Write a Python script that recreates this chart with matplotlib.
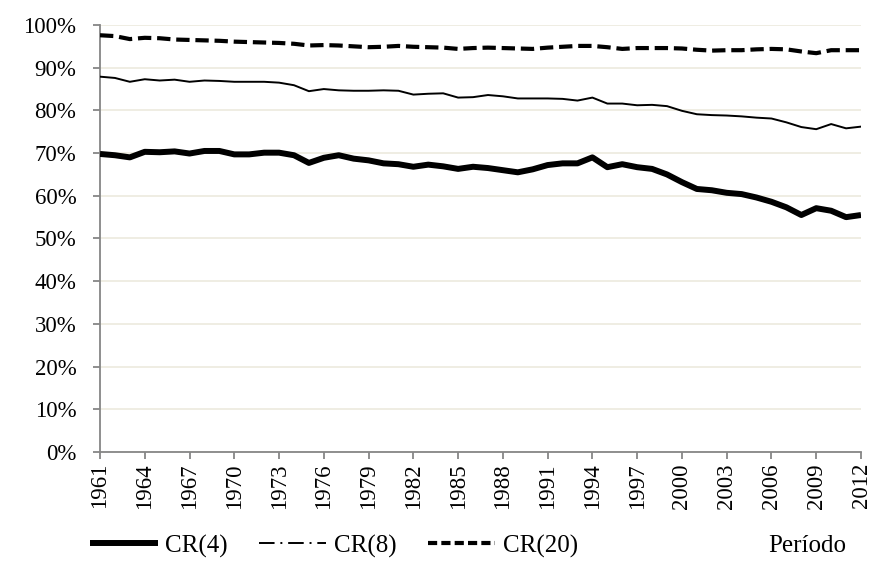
import matplotlib
matplotlib.use("Agg")
import matplotlib.pyplot as plt
from matplotlib.lines import Line2D
from matplotlib.ticker import FuncFormatter

years = list(range(1961, 2013))

cr4 = [69.8, 69.5, 69.0, 70.3, 70.2, 70.4, 69.9, 70.5, 70.5, 69.7,
       69.7, 70.1, 70.1, 69.5, 67.7, 68.9, 69.5, 68.7, 68.3, 67.6,
       67.4, 66.8, 67.3, 66.9, 66.3, 66.8, 66.5, 66.0, 65.5, 66.2,
       67.2, 67.6, 67.6, 69.0, 66.7, 67.4, 66.7, 66.3, 65.0, 63.2,
       61.6, 61.3, 60.7, 60.4, 59.6, 58.6, 57.3, 55.5, 57.1, 56.5,
       55.0, 55.5]

cr8 = [87.9, 87.6, 86.7, 87.3, 87.0, 87.2, 86.7, 87.0, 86.9, 86.7,
       86.7, 86.7, 86.5, 85.9, 84.5, 85.0, 84.7, 84.6, 84.6, 84.7,
       84.6, 83.7, 83.9, 84.0, 83.0, 83.1, 83.6, 83.3, 82.8, 82.8,
       82.8, 82.7, 82.3, 83.0, 81.6, 81.6, 81.2, 81.3, 81.0, 79.9,
       79.1, 78.9, 78.8, 78.6, 78.3, 78.1, 77.2, 76.1, 75.6, 76.8,
       75.8, 76.2]

cr20 = [97.6, 97.4, 96.7, 97.0, 96.9, 96.6, 96.5, 96.4, 96.3, 96.1,
        96.0, 95.9, 95.8, 95.6, 95.2, 95.3, 95.2, 95.0, 94.8, 94.9,
        95.1, 94.9, 94.8, 94.7, 94.4, 94.6, 94.7, 94.6, 94.5, 94.4,
        94.7, 94.9, 95.1, 95.1, 94.8, 94.4, 94.6, 94.6, 94.6, 94.5,
        94.2, 94.0, 94.1, 94.1, 94.3, 94.4, 94.3, 93.8, 93.4, 94.1,
        94.1, 94.1]

labels = ["CR(4)", "CR(8)", "CR(20)"]
xlabel = "Período"

plt.rcParams['font.family'] = ['Liberation Serif', 'DejaVu Serif']

fig = plt.figure(figsize=(8.72, 5.67), dpi=100)
ax = fig.add_axes([100/872, 1-452/567, 761/872, 427/567])

ax.plot(years, cr4, color='black', lw=4.3, solid_joinstyle='round', solid_capstyle='butt', zorder=3)
ax.plot(years, cr8, color='black', lw=1.4, solid_joinstyle='round', zorder=3)
ax.plot(years, cr20, color='black', lw=3.0, linestyle=(0, (3.2, 1.4)), zorder=3)

ax.set_xlim(1961, 2012)
ax.set_ylim(0, 100)
ax.set_yticks(range(0, 101, 10))
ax.yaxis.set_major_formatter(FuncFormatter(lambda v, p: "%d%%" % v))
ax.set_xticks(years[::3])
ax.set_xticklabels([str(y) for y in years[::3]], rotation=90)

ax.grid(axis='y', color='#EEECE1', lw=1.3)
ax.set_axisbelow(True)
for s in ['top', 'right']:
    ax.spines[s].set_visible(False)
for s in ['left', 'bottom']:
    ax.spines[s].set_color('#868686')
    ax.spines[s].set_linewidth(1.3)
ax.tick_params(axis='both', direction='out', length=5, width=1.3, color='#868686',
               labelsize=16.5, labelcolor='black')
ax.tick_params(axis='x', pad=3)
ax.tick_params(axis='y', pad=12)

handles = [Line2D([], [], color='black', lw=4.3, solid_capstyle='butt'),
           Line2D([], [], color='black', lw=1.4, linestyle=(0, (8, 3, 1, 3))),
           Line2D([], [], color='black', lw=3.0, linestyle=(0, (2.2, 1.0)))]
fig.legend(handles, labels, loc='center left', bbox_to_anchor=(90/872, 1-546/567),
           ncol=3, frameon=False, fontsize=18, handlelength=2.7, handletextpad=0.3,
           columnspacing=1.25, borderpad=0, borderaxespad=0)
fig.text(768/872, 1-546/567, xlabel, fontsize=18, va='center', ha='left')

fig.savefig("out.png", dpi=100)
